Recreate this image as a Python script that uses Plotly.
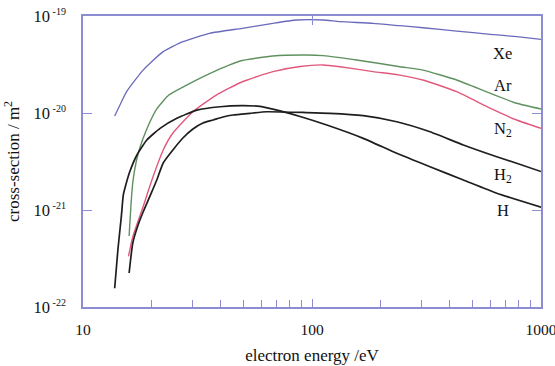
import plotly.graph_objects as go

# ---- data ----
xe_e = [13.75, 14.5, 15.5, 18.3, 22.4, 27.3, 35.7, 49.6, 67.5, 85.7, 111.7, 132.5, 184.7, 242, 305, 428.5, 599, 783, 1000]
xe_s = [9.31e-21, 1.21e-20, 1.66e-20, 2.77e-20, 4.29e-20, 5.43e-20, 6.63e-20, 7.47e-20, 8.41e-20, 9.09e-20,
        9.09e-20, 8.73e-20, 8.41e-20, 7.94e-20, 7.57e-20, 7.0e-20, 6.48e-20, 6.12e-20, 5.75e-20]

ar_e = [15.9, 16.2, 16.5, 17.1, 17.7, 19.0, 21.0, 23.7, 27.3, 34.6, 43.7, 49.6, 67.5, 94.8, 111.7, 156.7, 242, 305, 428.5, 599, 783, 1000]
ar_s = [5.40e-22, 1.13e-21, 1.94e-21, 3.20e-21, 4.36e-21, 6.84e-21, 1.10e-20, 1.53e-20, 1.85e-20, 2.46e-20,
        3.13e-20, 3.48e-20, 3.87e-20, 3.96e-20, 3.90e-20, 3.52e-20, 3.0e-20, 2.77e-20, 2.19e-20, 1.60e-20, 1.26e-20, 1.10e-20]

n2_e = [15.8, 16.5, 17.4, 18.3, 19.2, 20.2, 22.4, 24.7, 30.2, 38.2, 49.6, 67.5, 88.7, 111.7, 132.5, 184.7, 242, 305, 428.5, 599, 783, 1000]
n2_s = [3.33e-22, 5.31e-22, 7.7e-22, 1.08e-21, 1.53e-21, 2.19e-21, 4.16e-21, 6.22e-21, 1.03e-20, 1.53e-20,
        2.10e-20, 2.67e-20, 3.02e-20, 3.13e-20, 3.0e-20, 2.67e-20, 2.46e-20, 2.19e-20, 1.66e-20, 1.12e-20, 8.47e-21, 6.95e-21]

h2_e = [15.9, 16.5, 17.4, 18.3, 19.6, 21.0, 22.4, 24.7, 27.3, 30.2, 33.4, 37.0, 40.9, 45.2, 53.6, 63.4, 94.8, 119.8, 167.5, 234.4, 327.5, 458, 641, 783, 1000]
h2_s = [2.24e-22, 4.57e-22, 7.0e-22, 9.53e-22, 1.39e-21, 2.04e-21, 3.05e-21, 4.16e-21, 5.52e-21, 6.84e-21,
        7.88e-21, 8.47e-21, 9.1e-21, 9.54e-21, 9.93e-21, 1.03e-20, 1.01e-20, 9.93e-21, 9.38e-21, 8.13e-21,
        6.41e-21, 4.68e-21, 3.54e-21, 3.03e-21, 2.49e-21]

h_e = [13.75, 14.2, 14.7, 15.0, 15.5, 16.0, 17.2, 19.0, 21.7, 25.7, 31.4, 39.7, 49.5, 59.3, 72.5, 88.7, 116, 167.5, 234.4, 327.5, 458, 641, 1000]
h_s = [1.56e-22, 3.87e-22, 8.53e-22, 1.43e-21, 1.94e-21, 2.48e-21, 3.69e-21, 5.27e-21, 6.95e-21, 8.81e-21,
       1.07e-20, 1.16e-20, 1.19e-20, 1.17e-20, 1.05e-20, 9.2e-21, 7.52e-21, 5.48e-21, 3.84e-21, 2.79e-21,
       2.04e-21, 1.49e-21, 1.07e-21]

series_names = ["Xe", "Ar", "N<sub>2</sub>", "H<sub>2</sub>", "H"]
x_tick_vals = [10, 100, 1000]
x_tick_text = ["10", "100", "1000"]
y_tick_vals = [1e-22, 1e-21, 1e-20, 1e-19]
y_exponents = ["-22", "-21", "-20", "-19"]
y_tick_text = ["10<sup><span style='font-size:10px'> " + e + "</span></sup>" for e in y_exponents]

# ---- styles ----
FONT = "Liberation Serif"
AXC = "#8c8cd2"
colors = ["#6a6abc", "#5f915f", "#e2587c", "#1e1e1e", "#1e1e1e"]
widths = [1.3, 1.4, 1.4, 1.7, 1.7]
label_y = [0.872, 0.760, 0.612, 0.455, 0.333]

fig = go.Figure()
for xs, ys, c, w in zip([xe_e, ar_e, n2_e, h2_e, h_e], [xe_s, ar_s, n2_s, h2_s, h_s], colors, widths):
    fig.add_trace(go.Scatter(x=xs, y=ys, mode="lines",
                             line=dict(color=c, width=w, shape="spline", smoothing=0.5),
                             showlegend=False, hoverinfo="skip", cliponaxis=False))

# invisible trace to carry the top axis
fig.add_trace(go.Scatter(x=[100], y=[1e-20], xaxis="x2", mode="markers",
                         marker=dict(opacity=0), showlegend=False, hoverinfo="skip"))

for name, ly in zip(series_names, label_y):
    fig.add_annotation(text=name, xref="paper", yref="paper", x=0.917, y=ly,
                       xanchor="center", yanchor="middle",
                       showarrow=False, font=dict(family=FONT, size=16.5, color="#111"))

fig.update_layout(
    width=555, height=366,
    margin=dict(l=83, r=14, t=16, b=59, autoexpand=False),
    paper_bgcolor="white", plot_bgcolor="white",
    font=dict(family=FONT, size=15, color="#111"),
    xaxis=dict(type="log", range=[1, 3], tickvals=x_tick_vals, ticktext=x_tick_text,
               ticks="inside", ticklen=8, tickcolor=AXC, tickwidth=1.3, automargin=False,
               showline=True, linecolor=AXC, linewidth=1.5, mirror=True,
               showgrid=False, zeroline=False, ticklabelstandoff=8,
               ticklabeloverflow="allow", tickfont=dict(family=FONT, size=15.5),
               minor=dict(ticks="inside", ticklen=7, tickcolor=AXC, tickwidth=1.3, showgrid=False,
                          dtick="D1"),
               title=dict(text="electron energy /eV", standoff=12,
                          font=dict(family=FONT, size=17))),
    xaxis2=dict(type="log", range=[1, 3], overlaying="x", side="top", automargin=False,
                tickvals=[100], ticks="inside", ticklen=9, tickcolor=AXC, tickwidth=1.3,
                showticklabels=False, showline=False, showgrid=False, zeroline=False),
    yaxis=dict(type="log", range=[-22, -19], tickvals=y_tick_vals, ticktext=y_tick_text,
               ticks="inside", ticklen=9, tickcolor=AXC, tickwidth=1.3, automargin=False,
               showline=True, linecolor=AXC, linewidth=1.5, mirror="ticks",
               showgrid=False, zeroline=False, ticklabelstandoff=12,
               tickfont=dict(family=FONT, size=16.5),
               title=dict(text="cross-section / m<sup>2</sup>", standoff=10,
                          font=dict(family=FONT, size=17))),
)

fig.write_html("out.html", config={"displayModeBar": False},
               post_script="document.body.style.margin='0';document.body.style.padding='0';")
